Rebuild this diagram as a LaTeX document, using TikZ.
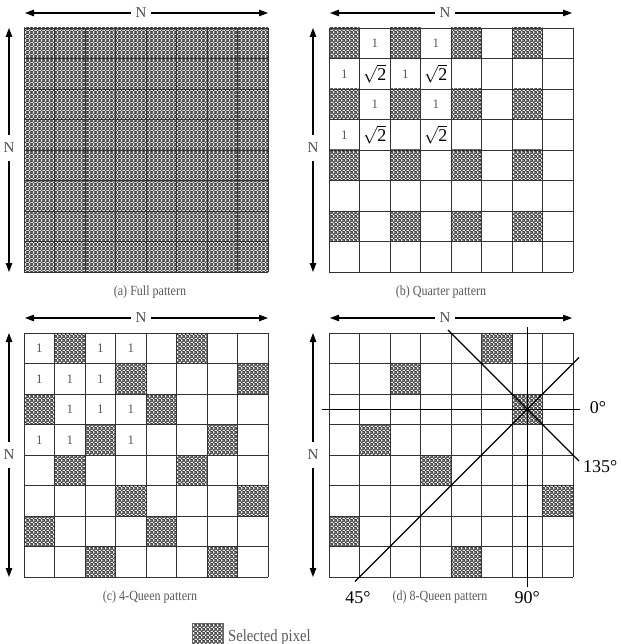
\documentclass[tikz,border=0pt]{standalone}
\usepackage{fontspec}
\setmainfont{Liberation Serif}
\newfontfamily\capfont{Liberation Serif}[FakeStretch=0.86]
\usetikzlibrary{patterns,arrows.meta}
\pgfdeclarepatterninherentlycolored{xhatch}{\pgfpointorigin}{\pgfpoint{4pt}{4pt}}{\pgfpoint{4pt}{4pt}}{%
  \pgfsetfillcolor{white}%
  \pgfpathrectangle{\pgfpointorigin}{\pgfpoint{4pt}{4pt}}\pgfusepath{fill}%
  \pgfsetstrokecolor{black!80}%
  \pgfsetlinewidth{0.8pt}%
  \pgfpathmoveto{\pgfpoint{-1pt}{-1pt}}\pgfpathlineto{\pgfpoint{5pt}{5pt}}%
  \pgfpathmoveto{\pgfpoint{-1pt}{5pt}}\pgfpathlineto{\pgfpoint{5pt}{-1pt}}%
  \pgfpathmoveto{\pgfpoint{-1pt}{3pt}}\pgfpathlineto{\pgfpoint{1pt}{5pt}}%
  \pgfpathmoveto{\pgfpoint{3pt}{-1pt}}\pgfpathlineto{\pgfpoint{5pt}{1pt}}%
  \pgfpathmoveto{\pgfpoint{-1pt}{1pt}}\pgfpathlineto{\pgfpoint{1pt}{-1pt}}%
  \pgfpathmoveto{\pgfpoint{3pt}{5pt}}\pgfpathlineto{\pgfpoint{5pt}{3pt}}%
  \pgfusepath{stroke}}
\tikzset{
  cellgrid/.style={draw=black!80,line width=0.9pt},
  hatchcell/.style={pattern=xhatch},
  arr/.style={-{Triangle[length=9pt,width=6.5pt]},line width=1.1pt},
  nlab/.style={font=\fontsize{15}{15}\selectfont,text=black!70,inner xsep=4.5pt,inner ysep=8pt},
  capt/.style={font=\capfont\fontsize{14}{14}\selectfont,text=black!65},
  one/.style={font=\fontsize{13}{13}\selectfont,text=black!65},
  rt/.style={font=\fontsize{18}{18}\selectfont},
  deg/.style={font=\fontsize{18}{18}\selectfont},
  qline/.style={line width=1.1pt},
  legtext/.style={font=\capfont\fontsize{17}{17}\selectfont,text=black!65,inner sep=0pt}
}
\newcommand\mygridlines{\foreach \i in {0,...,8}{\draw[cellgrid] (\i,0) -- (\i,8); \draw[cellgrid] (0,\i) -- (8,\i);}}
\begin{document}
\begin{tikzpicture}[x=1pt,y=-1pt]
\fill[white] (0,0) rectangle (620,644);
\useasboundingbox (0,0) rectangle (620,644);

% ---------- (a) full pattern
\begin{scope}[xshift=24pt,yshift=-28pt,x=30.5pt,y=-30.5pt]
  \fill[hatchcell] (0,0) rectangle (8,8);
  \mygridlines
\end{scope}
% ---------- (b) quarter pattern
\begin{scope}[xshift=329pt,yshift=-28pt,x=30.5pt,y=-30.5pt]
  \foreach \r in {0,2,4,6}{\foreach \c in {0,2,4,6}{\fill[hatchcell] (\c,\r) rectangle ++(1,1);}}
  \mygridlines
  \foreach \c/\r in {1/0,3/0,0/1,2/1,1/2,3/2,0/3}{\node[one] (b\r\c) at (\c+0.5,\r+0.5) {1};}
  \foreach \c/\r in {1/1,3/1,1/3,3/3}{\node[rt] (s\r\c) at (\c+0.5,\r+0.5) {$\sqrt{\mbox{2}}$};}
\end{scope}
% ---------- (c) 4-queen pattern
\begin{scope}[xshift=24pt,yshift=-333pt,x=30.5pt,y=-30.5pt]
  \foreach \c/\r in {1/0,5/0,3/1,7/1,0/2,4/2,2/3,6/3,1/4,5/4,3/5,7/5,0/6,4/6,2/7,6/7}{\fill[hatchcell] (\c,\r) rectangle ++(1,1);}
  \mygridlines
  \foreach \c/\r in {0/0,2/0,3/0,0/1,1/1,2/1,1/2,2/2,3/2,0/3,1/3,3/3}{\node[one] (c\r\c) at (\c+0.5,\r+0.5) {1};}
\end{scope}
% ---------- (d) 8-queen pattern
\begin{scope}[xshift=329pt,yshift=-333pt,x=30.5pt,y=-30.5pt]
  \foreach \c/\r in {5/0,2/1,6/2,1/3,3/4,7/5,0/6,4/7}{\fill[hatchcell] (\c,\r) rectangle ++(1,1);}
  \mygridlines
  \coordinate (h0) at (-0.23,2.5); \coordinate (h1) at (8.23,2.5);
  \coordinate (v0) at (6.5,-0.2);  \coordinate (v1) at (6.5,8.33);
  \coordinate (d0) at (0.85,8.15); \coordinate (d1) at (8.2,0.8);
  \coordinate (e0) at (3.9,-0.1);  \coordinate (e1) at (8.2,4.2);
  \draw[qline] (h0) -- (h1);
  \draw[qline] (v0) -- (v1);
  \draw[qline] (d0) -- (d1);
  \draw[qline] (e0) -- (e1);
  \node[deg] (l0) at (8.82,2.45) {0°};
  \node[deg] (l135) at (8.89,4.39) {135°};
  \node[deg] (l45) at (0.95,8.66) {45°};
  \node[deg] (l90) at (6.5,8.66) {90°};
\end{scope}

% ---------- N arrows
\node[nlab] (Na) at (141,13) {N};
\coordinate (Nal) at (25,13); \coordinate (Nar) at (268,13);
\draw[arr] (Na) -- (Nal); \draw[arr] (Na) -- (Nar);
\node[nlab] (Nb) at (445,13) {N};
\coordinate (Nbl) at (330,13); \coordinate (Nbr) at (572,13);
\draw[arr] (Nb) -- (Nbl); \draw[arr] (Nb) -- (Nbr);
\node[nlab] (Nc) at (141,318) {N};
\coordinate (Ncl) at (25,318); \coordinate (Ncr) at (268,318);
\draw[arr] (Nc) -- (Ncl); \draw[arr] (Nc) -- (Ncr);
\node[nlab] (Nd) at (445,318) {N};
\coordinate (Ndl) at (330,318); \coordinate (Ndr) at (572,318);
\draw[arr] (Nd) -- (Ndl); \draw[arr] (Nd) -- (Ndr);

\node[nlab] (Va) at (9,148) {N};
\coordinate (Vat) at (9,28); \coordinate (Vab) at (9,272);
\draw[arr] (Va) -- (Vat); \draw[arr] (Va) -- (Vab);
\node[nlab] (Vb) at (313,148) {N};
\coordinate (Vbt) at (313,28); \coordinate (Vbb) at (313,272);
\draw[arr] (Vb) -- (Vbt); \draw[arr] (Vb) -- (Vbb);
\node[nlab] (Vc) at (9,455) {N};
\coordinate (Vct) at (9,333); \coordinate (Vcb) at (9,577);
\draw[arr] (Vc) -- (Vct); \draw[arr] (Vc) -- (Vcb);
\node[nlab] (Vd) at (313,455) {N};
\coordinate (Vdt) at (313,333); \coordinate (Vdb) at (313,577);
\draw[arr] (Vd) -- (Vdt); \draw[arr] (Vd) -- (Vdb);

% ---------- captions
\node[capt] (capa) at (150,292) {(a) Full pattern};
\node[capt] (capb) at (441,292) {(b) Quarter pattern};
\node[capt] (capc) at (150,597) {(c) 4-Queen pattern};
\node[capt] (capd) at (440,597) {(d) 8-Queen pattern};

% ---------- legend
\node[draw=black!60,line width=0.5pt,hatchcell,minimum width=31pt,minimum height=22pt,inner sep=0pt,anchor=north west] (leg) at (192,623) {};
\node[legtext,anchor=base west] (legt) at (228,641) {Selected pixel};
\end{tikzpicture}
\end{document}
